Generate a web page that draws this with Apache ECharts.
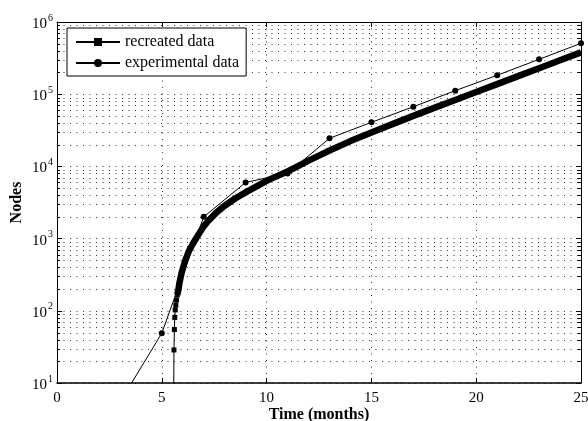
<!DOCTYPE html>
<html>
<head>
<meta charset="utf-8">
<script src="https://cdn.jsdelivr.net/npm/echarts@6/dist/echarts.min.js"></script>
<style>
  html, body { margin: 0; padding: 0; background: #fff; }
  #chart { width: 588px; height: 421px; }
</style>
</head>
<body>
<div id="chart"></div>
<script>
// Recreated growth: sparse start (square markers on a thin line)
const recreatedEarlyTime  = [5.55, 5.58, 5.60, 5.62, 5.64, 5.67, 5.70, 5.74];
const recreatedEarlyNodes = [1, 28.7, 55, 81, 103, 120, 141, 166];

// Recreated growth: dense part, markers merge into a heavy line
const recreatedTime  = [5.74, 5.79, 5.85, 5.95, 6.1, 6.3, 6.5, 6.8, 7.0, 7.2, 7.6, 8.0, 8.5, 9.0, 9.5,
                        10.0, 10.5, 11.0, 11.5, 12.0, 12.5, 13, 14, 15, 16, 17, 18, 19, 20, 21, 22, 23, 24, 25];
const recreatedNodes = [166, 195, 250, 340, 480, 680, 870, 1200, 1480, 1740, 2290, 2850, 3590, 4370, 5250,
                        6310, 7330, 8510, 10100, 12000, 14100, 16600, 22400, 29500, 38500, 50100, 64600,
                        83200, 107000, 138000, 178000, 229000, 295000, 380000];

// Measured growth
const experimentalTime  = [3, 5, 7, 9, 11, 13, 15, 17, 19, 21, 23, 25];
const experimentalNodes = [5.4, 49, 2000, 6000, 8000, 24500, 40800, 67000, 112000, 183000, 304000, 507000];

// Axes
const xMin = 0, xMax = 25, xStep = 5;
const yDecades = [10, 100, 1000, 10000, 100000, 1000000];
const minorMultipliers = [2, 3, 4, 5, 6, 7, 8, 9];

const FONT = 'Liberation Serif';
const DOT = [1, 5.5];

const minorValues = [];
yDecades.slice(0, -1).forEach(d => minorMultipliers.forEach(m => minorValues.push(d * m)));

const zip = (xs, ys) => xs.map((x, i) => [x, ys[i]]);

const chart = echarts.init(document.getElementById('chart'), null, { renderer: 'canvas' });

const sharedX = {
  type: 'value', min: xMin, max: xMax, interval: xStep,
  axisLine: { show: true, onZero: false, lineStyle: { color: '#000', width: 1 } },
  axisTick: { show: true, inside: true, length: 5, lineStyle: { color: '#000' } },
};
const sharedY = {
  type: 'log', logBase: 10, min: yDecades[0], max: yDecades[yDecades.length - 1],
  axisLine: { show: true, onZero: false, lineStyle: { color: '#000', width: 1 } },
  axisTick: { show: true, inside: true, length: 5, lineStyle: { color: '#000' } },
};

chart.setOption({
  animation: false,
  backgroundColor: '#fff',
  grid: { left: 57, right: 7, top: 22, bottom: 38, outerBoundsMode: 'none', containLabel: false },
  legend: {
    data: ['recreated data', 'experimental data'],
    orient: 'vertical',
    left: 67, top: 28,
    padding: [6, 7, 5, 8],
    itemGap: 5,
    itemWidth: 44,
    itemHeight: 10,
    backgroundColor: '#fff',
    borderColor: '#000',
    borderWidth: 1,
    borderRadius: 0,
    textStyle: { fontFamily: FONT, fontSize: 16, color: '#000', lineHeight: 16 }
  },
  xAxis: [
    Object.assign({}, sharedX, {
      position: 'bottom',
      axisLine: { show: true, onZero: false, lineStyle: { color: '#000', width: 1.5 } },
      name: 'Time (months)', nameLocation: 'middle', nameGap: 24, nameMoveOverlap: false,
      nameTextStyle: { fontFamily: FONT, fontSize: 16, fontWeight: 'bold', color: '#000' },
      axisLabel: { fontFamily: FONT, fontSize: 15, color: '#000', margin: 8 },
      splitLine: { show: true, lineStyle: { color: '#333', width: 1, type: DOT } }
    }),
    Object.assign({}, sharedX, {
      position: 'top',
      axisLabel: { show: false },
      splitLine: { show: false }
    })
  ],
  yAxis: [
    Object.assign({}, sharedY, {
      position: 'left',
      name: 'Nodes', nameLocation: 'middle', nameGap: 32, nameRotate: 90, nameMoveOverlap: false,
      nameTextStyle: { fontFamily: FONT, fontSize: 16, fontWeight: 'bold', color: '#000' },
      axisLabel: {
        margin: 4,
        formatter: v => '{b|10}{s|' + Math.round(Math.log10(v)) + '}',
        rich: {
          b: { fontFamily: FONT, fontSize: 15, color: '#000', padding: [4, 0, 0, 0] },
          s: { fontFamily: FONT, fontSize: 10, color: '#000', padding: [0, 0, 8, 1] }
        }
      },
      splitLine: { show: true, lineStyle: { color: '#333', width: 1, type: DOT } }
    }),
    Object.assign({}, sharedY, {
      position: 'right',
      axisLabel: { show: false },
      splitLine: { show: false }
    })
  ],
  series: [
    {
      // minor log grid lines (2..9 within each decade) with short inward ticks
      type: 'custom', silent: true, z: 1,
      xAxisIndex: 0, yAxisIndex: 0,
      encode: { x: 0, y: 1 },
      data: minorValues.map(v => [xMin, v]),
      renderItem: (params, api) => {
        const v = api.value(1);
        const a = api.coord([xMin, v]);
        const b = api.coord([xMax, v]);
        const y = Math.round(a[1]) + 0.5;
        return {
          type: 'group',
          children: [
            { type: 'line', shape: { x1: a[0], y1: y, x2: b[0], y2: y },
              style: { stroke: '#333', lineWidth: 1, lineDash: DOT } },
            { type: 'line', shape: { x1: a[0], y1: y, x2: a[0] + 3, y2: y },
              style: { stroke: '#000', lineWidth: 1 } },
            { type: 'line', shape: { x1: b[0], y1: y, x2: b[0] - 3, y2: y },
              style: { stroke: '#000', lineWidth: 1 } }
          ]
        };
      }
    },
    {
      name: 'recreated data', type: 'line', z: 3,
      data: zip(recreatedEarlyTime, recreatedEarlyNodes),
      symbol: 'rect', symbolSize: 5, showSymbol: true,
      itemStyle: { color: '#000' },
      lineStyle: { color: '#000', width: 1 },
      clip: true
    },
    {
      name: 'recreated data', type: 'line', z: 3,
      data: zip(recreatedTime, recreatedNodes),
      symbol: 'none',
      itemStyle: { color: '#000' },
      lineStyle: { color: '#000', width: 6.5, cap: 'butt', join: 'round' },
      clip: true
    },
    {
      name: 'experimental data', type: 'line', z: 4,
      data: zip(experimentalTime, experimentalNodes),
      symbol: 'circle', symbolSize: 6, showSymbol: true,
      itemStyle: { color: '#000' },
      lineStyle: { color: '#000', width: 1 },
      clip: true
    }
  ]
});
</script>
</body>
</html>
